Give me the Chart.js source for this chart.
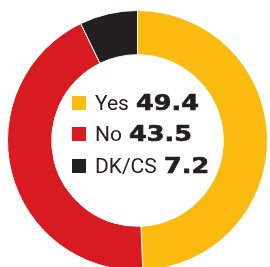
<!DOCTYPE html>
<html><head><meta charset="utf-8">
<script src="https://cdn.jsdelivr.net/npm/chart.js@4"></script>
<style>
html,body{margin:0;padding:0;width:270px;height:267px;overflow:hidden;background:#fff;}
#wrap{position:absolute;left:7px;top:10px;width:261px;height:261px;}
#legend{position:absolute;left:72px;top:90.6px;}
.row{display:flex;align-items:baseline;height:31.5px;line-height:23px;white-space:nowrap;}
.sw{display:inline-block;width:14px;height:14px;margin-right:9px;flex:none;}
.lab{font-family:Roboto,sans-serif;font-size:21px;color:#231F20;}
.val{font-family:'DejaVu Sans',sans-serif;font-weight:bold;font-size:22px;color:#231F20;display:inline-block;transform:scaleX(1.16);transform-origin:left center;margin-left:7px;-webkit-text-stroke:0.7px #231F20;}
</style>
</head><body>
<div id="wrap"><canvas id="c" width="261" height="261"></canvas></div>
<div id="legend"></div>
<script>
const categories = ['Yes', 'No', 'DK/CS'];
const values = [49.4, 43.5, 7.2];
const colors = ['#FBBA0F', '#D81A21', '#231F20'];

const chart = new Chart(document.getElementById('c'), {
  type: 'doughnut',
  data: {
    labels: categories,
    datasets: [{ data: values, backgroundColor: colors, borderColor: '#ffffff', borderWidth: 1 }]
  },
  options: {
    responsive: false,
    animation: false,
    cutout: '66%',
    layout: { padding: 0 },
    plugins: { legend: { display: false }, tooltip: { enabled: false } }
  }
});

const leg = document.getElementById('legend');
chart.data.labels.forEach((lab, i) => {
  const row = document.createElement('div');
  row.className = 'row';
  const sw = document.createElement('span');
  sw.className = 'sw';
  sw.style.background = chart.data.datasets[0].backgroundColor[i];
  const l = document.createElement('span');
  l.className = 'lab';
  l.textContent = lab;
  const v = document.createElement('span');
  v.className = 'val';
  v.textContent = chart.data.datasets[0].data[i].toFixed(1);
  row.append(sw, l, v);
  leg.appendChild(row);
});
</script>
</body></html>
